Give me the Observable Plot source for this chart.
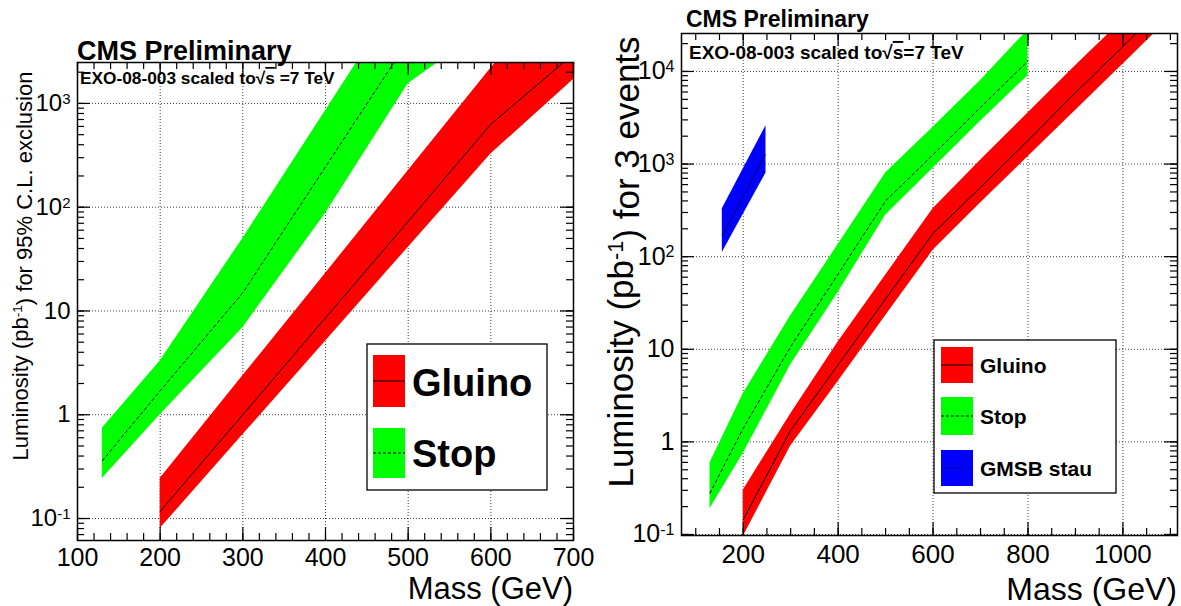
<!DOCTYPE html>
<html>
<head>
<meta charset="utf-8">
<script src="https://cdn.jsdelivr.net/npm/d3@7"></script>
<script src="https://cdn.jsdelivr.net/npm/@observablehq/plot@0.6"></script>
<style>
  body { margin: 0; background: #fff; }
  #wrap { position: relative; width: 1181px; height: 606px; background: #fff; overflow: hidden; }
  #wrap svg { position: absolute; top: 0; overflow: visible; }
</style>
</head>
<body>
<div id="wrap"></div>
<script>
// ---------- Left panel: luminosity for 95% C.L. exclusion ----------
const leftGluinoMass    = [200, 300, 400, 500, 600, 700];
const leftGluinoCentral = [0.117, 1.0, 8.6, 73, 630, 3000];
const leftGluinoLow     = [0.080, 0.64, 5.1, 41, 325, 1700];
const leftGluinoHigh    = [0.243, 2.37, 23, 224, 2180, 20000];

const leftStopMass    = [130, 200, 300, 400, 500, 600];
const leftStopCentral = [0.36, 1.7, 15, 245, 4000, 20000];
const leftStopLow     = [0.243, 1.0, 6.9, 87, 1550, 5700];
const leftStopHigh    = [0.74, 3.3, 50, 850, 14500, 60000];

const leftXTicks = [100, 200, 300, 400, 500, 600, 700];
const leftYTicks = [0.1, 1, 10, 100, 1000];

// ---------- Right panel: luminosity for 3 events ----------
const rightGluinoMass    = [200, 300, 400, 500, 600, 700, 800, 900, 1000, 1100];
const rightGluinoCentral = [0.145, 1.33, 6.8, 35, 178, 560, 1800, 5900, 18600, 60000];
const rightGluinoLow     = [0.095, 0.9, 4.5, 23, 117, 380, 1200, 3800, 12000, 38000];
const rightGluinoHigh    = [0.30, 2.0, 12, 63, 330, 1100, 3550, 11500, 36000, 117000];

const rightStopMass    = [130, 200, 300, 400, 500, 600, 700, 800];
const rightStopCentral = [0.28, 1.4, 10.7, 65, 400, 1260, 4100, 13000];
const rightStopLow     = [0.19, 0.75, 6.8, 41, 280, 900, 2900, 9000];
const rightStopHigh    = [0.59, 3.3, 23, 135, 800, 2500, 8000, 28000];

const rightStauMass    = [156, 248];
const rightStauCentral = [170, 1300];
const rightStauLow     = [111, 800];
const rightStauHigh    = [330, 2600];

const rightXTicks = [200, 400, 600, 800, 1000];
const rightYTicks = [0.1, 1, 10, 100, 1000, 10000];

const FONT = '"Liberation Sans", Arial, Helvetica, sans-serif';
const RED = "#ff0000", GREEN = "#00ff00", BLUE = "#0000ff";

function rows(mass, central, low, high) {
  return mass.map((m, i) => ({m, c: central[i], lo: low[i], hi: high[i]}));
}

function logMinor(domain) {
  const out = [];
  for (let k = -3; k <= 6; k++)
    for (let j = 1; j <= 9; j++) {
      const v = j * Math.pow(10, k);
      if (v >= domain[0] && v <= domain[1]) out.push(+v.toPrecision(3));
    }
  return out;
}

function yFmt(d) {
  if (d === 1) return "1";
  if (d === 10) return "10";
  return "10^" + Math.round(Math.log10(d));
}

function panel(cfg) {
  const fw = cfg.width - cfg.ml - cfg.mr;
  const fh = cfg.height - cfg.mt - cfg.mb;
  const yMinor = logMinor(cfg.yDomain);
  const xMinor = d3.range(cfg.xMinorStart, cfg.xDomain[1] + 0.1, cfg.xMinorStep);
  const grid = {stroke: "#000", strokeOpacity: 0.75, strokeDasharray: "1,2", strokeWidth: 1};
  const bandMarks = cfg.bands.flatMap(b => [
    Plot.areaY(b.data, {x: "m", y1: "lo", y2: "hi", fill: b.fill, clip: true}),
    Plot.line(b.data, {x: "m", y: "c", stroke: "#000", strokeWidth: 1, strokeDasharray: b.dash, clip: true})
  ]);
  const tick = {stroke: "#000", strokeWidth: 1.2};
  const svg = Plot.plot({
    width: cfg.width, height: cfg.height,
    marginLeft: cfg.ml, marginRight: cfg.mr, marginTop: cfg.mt, marginBottom: cfg.mb,
    style: {fontFamily: FONT, background: "transparent", color: "#000"},
    x: {domain: cfg.xDomain, axis: null},
    y: {type: "log", domain: cfg.yDomain, axis: null},
    marks: [
      Plot.gridX(cfg.xGrid, grid),
      Plot.gridY(cfg.yGrid, grid),
      ...bandMarks,
      // inward ticks on all four sides of the frame
      Plot.tickY(cfg.yTicks, {y: d => d, insetRight: fw - 13, ...tick}),
      Plot.tickY(cfg.yTicks, {y: d => d, insetLeft: fw - 13, ...tick}),
      Plot.tickY(yMinor, {y: d => d, insetRight: fw - 7, ...tick}),
      Plot.tickY(yMinor, {y: d => d, insetLeft: fw - 7, ...tick}),
      Plot.tickX(cfg.xTicks, {x: d => d, insetTop: fh - 13, ...tick}),
      Plot.tickX(cfg.xTicks, {x: d => d, insetBottom: fh - 13, ...tick}),
      Plot.tickX(xMinor, {x: d => d, insetTop: fh - 7, ...tick}),
      Plot.tickX(xMinor, {x: d => d, insetBottom: fh - 7, ...tick}),
      Plot.frame({stroke: "#000", strokeWidth: 1.5}),
      Plot.axisX(cfg.xTicks, {tickSize: 0, tickPadding: cfg.xPad, fontSize: cfg.xFont, tickFormat: d => String(d), label: null}),
      Plot.axisY(cfg.yTicks, {tickSize: 0, tickPadding: cfg.yPad, fontSize: cfg.yFont, tickFormat: yFmt, label: null})
    ]
  });
  svg.style.left = cfg.left + "px";
  // exponent notation for the decade labels
  d3.select(svg).selectAll('g[aria-label="y-axis tick label"] text').each(function () {
    const m = /^10\^(-?\d+)$/.exec(this.textContent);
    if (!m) return;
    const t = d3.select(this);
    t.text(null);
    t.append("tspan").text("10");
    t.append("tspan").attr("dy", "-0.45em").attr("font-size", cfg.expFont).text(m[1]);
  });
  return svg;
}

function txt(svg, x, y, size, weight, anchor) {
  return d3.select(svg).append("text")
    .attr("x", x).attr("y", y)
    .attr("font-family", FONT).attr("font-size", size)
    .attr("font-weight", weight).attr("text-anchor", anchor).attr("fill", "#000");
}

function header(svg, x, y1, s1, x2, y2, s2, spaceBeforeEq) {
  txt(svg, x, y1, s1, "bold", "start").text("CMS Preliminary");
  const t = txt(svg, x2, y2, s2, "bold", "start");
  t.append("tspan").text("EXO-08-003 scaled to");
  t.append("tspan").text("\u221A");
  t.append("tspan").style("text-decoration", "overline").text("s");
  t.append("tspan").text(spaceBeforeEq ? " =7 TeV" : "=7 TeV");
}

function yTitle(svg, x, y, size, rest) {
  const t = d3.select(svg).append("text")
    .attr("transform", `translate(${x},${y}) rotate(-90)`)
    .attr("font-family", FONT).attr("font-size", size).attr("text-anchor", "middle");
  t.append("tspan").text("Luminosity (pb");
  t.append("tspan").attr("dy", "-0.45em").attr("font-size", size * 0.62).text("-1");
  t.append("tspan").attr("dy", "0.45em").text(rest);
}

function legend(svg, box, items) {
  const g = d3.select(svg).append("g");
  g.append("rect").attr("x", box.x).attr("y", box.y).attr("width", box.w).attr("height", box.h)
    .attr("fill", "#fff").attr("stroke", "#000").attr("stroke-width", 1.3);
  items.forEach(it => {
    g.append("rect").attr("x", it.sx).attr("y", it.sy).attr("width", it.sw).attr("height", it.sh).attr("fill", it.fill);
    g.append("line").attr("x1", it.sx).attr("x2", it.sx + it.sw)
      .attr("y1", it.sy + it.sh / 2).attr("y2", it.sy + it.sh / 2)
      .attr("stroke", "#000").attr("stroke-width", 1).attr("stroke-dasharray", it.dash || null);
    txt(svg, it.tx, it.ty, it.size, "bold", "start").text(it.label);
  });
}

const wrap = document.getElementById("wrap");

// ---- left ----
const left = panel({
  left: 0, width: 590, height: 606, ml: 77, mr: 17, mt: 62, mb: 66,
  xDomain: [100, 700], yDomain: [0.0614, 2480],
  xTicks: leftXTicks, yTicks: leftYTicks,
  xGrid: [200, 300, 400, 500, 600], yGrid: leftYTicks,
  xMinorStart: 100, xMinorStep: 20,
  xPad: 8, yPad: 7, xFont: 25, yFont: 24, expFont: 15,
  bands: [
    {data: rows(leftStopMass, leftStopCentral, leftStopLow, leftStopHigh), fill: GREEN, dash: "3,3"},
    {data: rows(leftGluinoMass, leftGluinoCentral, leftGluinoLow, leftGluinoHigh), fill: RED, dash: null}
  ]
});
wrap.appendChild(left);
header(left, 77, 60, 27, 80, 84, 17.3, true);
yTitle(left, 28, 266, 22, ") for 95% C.L. exclusion");
txt(left, 573, 599, 31, "normal", "end").text("Mass (GeV)");
legend(left, {x: 367, y: 344, w: 180, h: 146}, [
  {label: "Gluino", fill: RED, sx: 373, sy: 355, sw: 32, sh: 52, tx: 412, ty: 396, size: 38},
  {label: "Stop", fill: GREEN, sx: 373, sy: 428, sw: 32, sh: 50, tx: 412, ty: 467, size: 38, dash: "3,2"}
]);

// ---- right ----
const OX = 590;
const right = panel({
  left: OX, width: 591, height: 606, ml: 91, mr: 4, mt: 33, mb: 71,
  xDomain: [70, 1115], yDomain: [0.0975, 25700],
  xTicks: rightXTicks, yTicks: rightYTicks,
  xGrid: rightXTicks, yGrid: rightYTicks,
  xMinorStart: 100, xMinorStep: 50,
  xPad: 9, yPad: 7, xFont: 26, yFont: 25, expFont: 16,
  bands: [
    {data: rows(rightStauMass, rightStauCentral, rightStauLow, rightStauHigh), fill: BLUE, dash: "1,2"},
    {data: rows(rightStopMass, rightStopCentral, rightStopLow, rightStopHigh), fill: GREEN, dash: "3,3"},
    {data: rows(rightGluinoMass, rightGluinoCentral, rightGluinoLow, rightGluinoHigh), fill: RED, dash: null}
  ]
});
wrap.appendChild(right);
header(right, 686 - OX, 27, 23, 689 - OX, 59, 19, false);
yTitle(right, 633 - OX, 262, 35, ") for 3 events");
txt(right, 1177 - OX, 600, 32, "normal", "end").text("Mass (GeV)");
legend(right, {x: 934 - OX, y: 340, w: 182, h: 153}, [
  {label: "Gluino", fill: RED, sx: 941 - OX, sy: 347, sw: 32, sh: 36, tx: 980 - OX, ty: 373, size: 21},
  {label: "Stop", fill: GREEN, sx: 941 - OX, sy: 397, sw: 32, sh: 38, tx: 980 - OX, ty: 424, size: 21, dash: "3,2"},
  {label: "GMSB stau", fill: BLUE, sx: 941 - OX, sy: 450, sw: 32, sh: 36, tx: 980 - OX, ty: 476, size: 21, dash: "1,2"}
]);
</script>
</body>
</html>
